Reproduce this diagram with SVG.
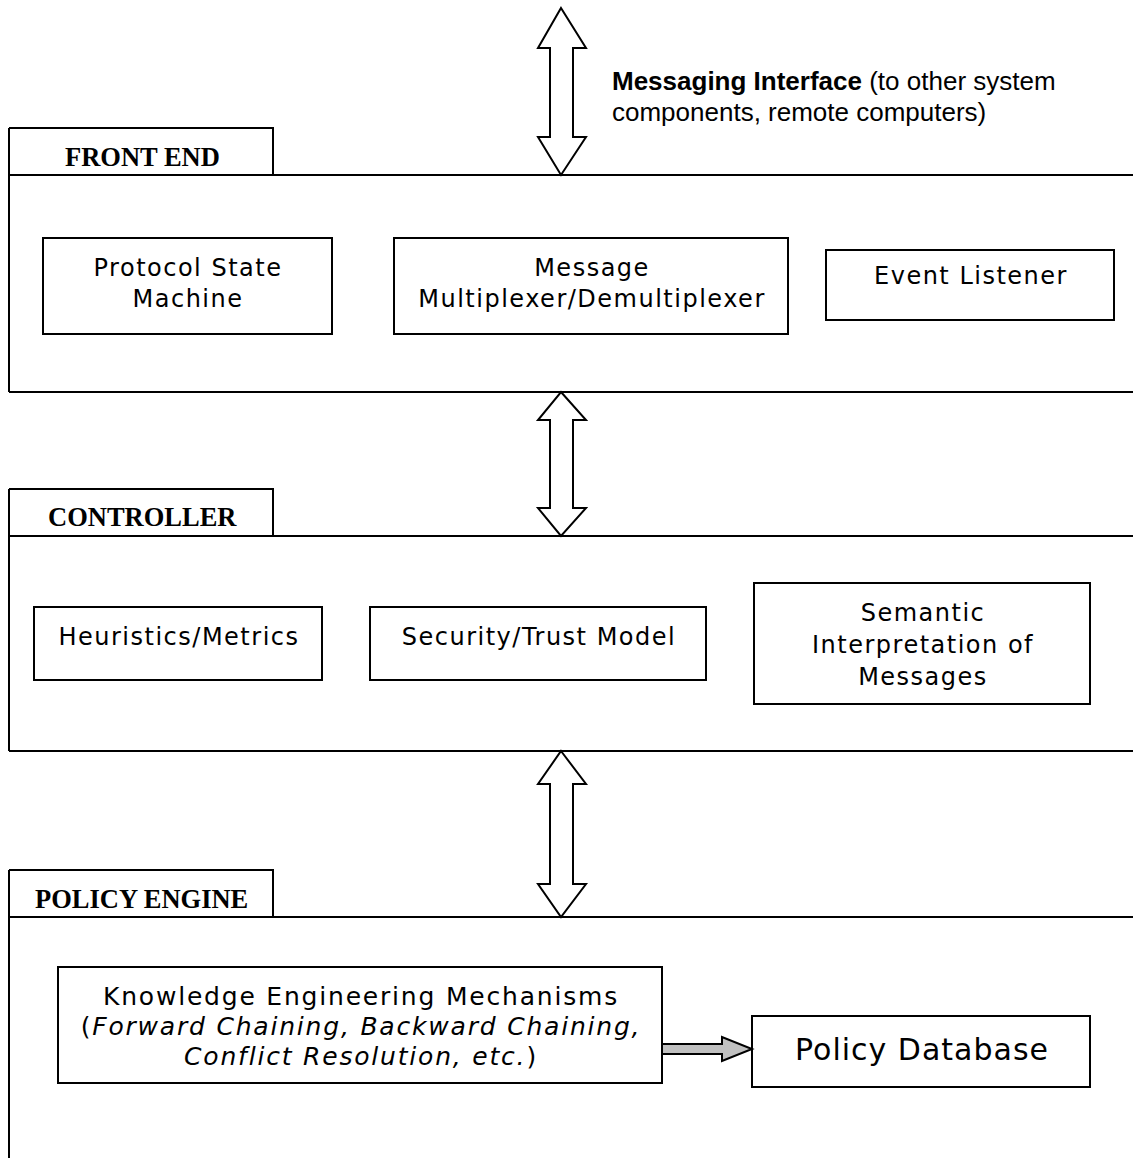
<svg xmlns="http://www.w3.org/2000/svg" width="1133" height="1158" viewBox="0 0 1133 1158">
<style>
.ln{stroke:#000;stroke-width:2;fill:none}
.bx{stroke:#000;stroke-width:2;fill:#fff}
.dbl{stroke:#000;stroke-width:2;fill:#fff;stroke-linejoin:miter}
.t{font-family:"DejaVu Sans",Verdana,sans-serif;font-size:24px;letter-spacing:1.5px;fill:#000;text-anchor:middle}
.k{font-size:25px;letter-spacing:1.8px}
.tab{font-family:"Liberation Serif","Times New Roman",serif;font-weight:bold;font-size:26.5px;fill:#000}
.msg{font-family:"Liberation Sans",Arial,sans-serif;font-size:26px;fill:#000}
</style>
<g id="front-end">
<path class="ln" d="M9,128 H273 V175 M9,128 V392 M9,175 H1133 M9,392 H1133"/>
<text class="tab" x="65" y="166">FRONT END</text>
</g>
<g id="controller">
<path class="ln" d="M9,489 H273 V536 M9,489 V751 M9,536 H1133 M9,751 H1133"/>
<text class="tab" x="48" y="526">CONTROLLER</text>
</g>
<g id="policy-engine">
<path class="ln" d="M9,870 H273 V917 M9,870 V1158 M9,917 H1133"/>
<text class="tab" x="35" y="908">POLICY ENGINE</text>
</g>
<g id="protocol-state-machine">
<rect class="bx" x="43" y="238" width="289" height="96"/>
<text class="t" x="188" y="276">Protocol State</text>
<text class="t" x="188" y="307">Machine</text>
</g>
<g id="message-mux">
<rect class="bx" x="394" y="238" width="394" height="96"/>
<text class="t" x="592" y="276">Message</text>
<text class="t" x="592" y="307">Multiplexer/Demultiplexer</text>
</g>
<g id="event-listener">
<rect class="bx" x="826" y="250" width="288" height="70"/>
<text class="t" x="971" y="284">Event Listener</text>
</g>
<g id="heuristics">
<rect class="bx" x="34" y="607" width="288" height="73"/>
<text class="t" x="179" y="645">Heuristics/Metrics</text>
</g>
<g id="security">
<rect class="bx" x="370" y="607" width="336" height="73"/>
<text class="t" x="539" y="645">Security/Trust Model</text>
</g>
<g id="semantic">
<rect class="bx" x="754" y="583" width="336" height="121"/>
<text class="t" x="923" y="621">Semantic</text>
<text class="t" x="923" y="653">Interpretation of</text>
<text class="t" x="923" y="685">Messages</text>
</g>
<g id="knowledge-engineering">
<rect class="bx" x="58" y="967" width="604" height="116"/>
<text class="t k" x="361" y="1005">Knowledge Engineering Mechanisms</text>
<text class="t k" x="361" y="1035">(<tspan font-style="italic">Forward Chaining, Backward Chaining,</tspan></text>
<text class="t k" x="361" y="1065"><tspan font-style="italic">Conflict Resolution, etc.</tspan>)</text>
</g>
<g id="policy-database">
<rect class="bx" x="752" y="1016" width="338" height="71"/>
<text class="t" x="922" y="1060" style="font-size:30px;letter-spacing:1px">Policy Database</text>
</g>
<g id="messaging-interface-label">
<text class="msg" x="612" y="90"><tspan font-weight="bold">Messaging Interface</tspan> (to other system</text>
<text class="msg" x="612" y="121">components, remote computers)</text>
</g>
<g id="connectors">
<path class="dbl" d="M561,8 L586,48 H573 V137 H586 L561,175 L538,137 H550 V48 H538 Z"/>
<path class="dbl" d="M561,392 L586,420 H573 V508 H586 L561,536 L538,508 H550 V420 H538 Z"/>
<path class="dbl" d="M561,751 L586,784 H573 V884 H586 L561,917 L538,884 H550 V784 H538 Z"/>
<path d="M662,1044 H722 V1037 L752,1049 L722,1061 V1054 H662 Z" fill="#c0c0c0" stroke="#000" stroke-width="2"/>
</g>
</svg>
